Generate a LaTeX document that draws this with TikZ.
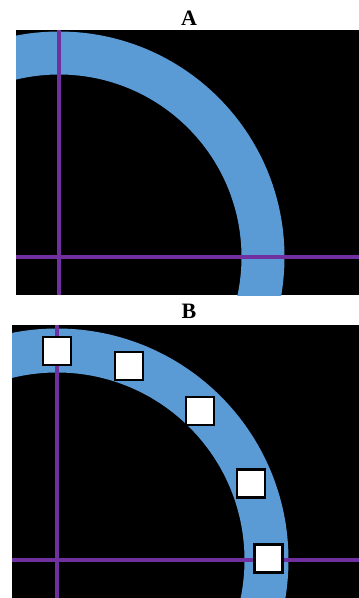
\documentclass[tikz,border=0pt]{standalone}
\usepackage{fontspec}
\setmainfont{Liberation Serif}
\definecolor{ringblue}{HTML}{5B9BD5}
\definecolor{axispurple}{HTML}{7030A0}
\tikzset{
  panel/.style={fill=black, draw=none},
  ring/.style={fill=ringblue, even odd rule},
  axis/.style={draw=axispurple, line width=3.2pt},
  marker/.style={draw=black, fill=white, line width=2.6pt, minimum size=28pt, inner sep=0pt, outer sep=0pt},
  paneltitle/.style={font=\fontsize{22}{24}\selectfont\bfseries, anchor=base, inner sep=0pt}
}
\begin{document}
\begin{tikzpicture}[x=1pt,y=-1pt]
\useasboundingbox (0,0) rectangle (359,598);
% ---------- Panel A ----------
\node[paneltitle] (titleA) at (189,25) {A};
\fill[panel] (16,30) rectangle (359,295);
\begin{scope}
  \clip (16,30) rectangle (359,295);
  \coordinate (cA) at (59,257);
  \fill[ring] (cA) circle[radius=225.5] (cA) circle[radius=182.5];
\end{scope}
\coordinate (aTop) at (59,30);
\coordinate (aBot) at (59,295);
\coordinate (aLeft) at (16,257);
\coordinate (aRight) at (359,257);
\draw[axis] (aTop) -- (aBot);
\draw[axis] (aLeft) -- (aRight);
% ---------- Panel B ----------
\node[paneltitle] (titleB) at (189,318) {B};
\fill[panel] (12,325) rectangle (359,598);
\begin{scope}
  \clip (12,325) rectangle (359,598);
  \coordinate (cB) at (57,560);
  \fill[ring] (cB) circle[radius=231.5] (cB) circle[radius=187.5];
\end{scope}
\coordinate (bTop) at (57,325);
\coordinate (bBot) at (57,598);
\coordinate (bLeft) at (12,560);
\coordinate (bRight) at (359,560);
\draw[axis] (bTop) -- (bBot);
\draw[axis] (bLeft) -- (bRight);
\node[marker] (m1) at (57,351) {};
\node[marker] (m2) at (129,366) {};
\node[marker] (m3) at (200,411) {};
\node[marker] (m4) at (251,483.5) {};
\node[marker] (m5) at (268.5,558.5) {};
\end{tikzpicture}
\end{document}
